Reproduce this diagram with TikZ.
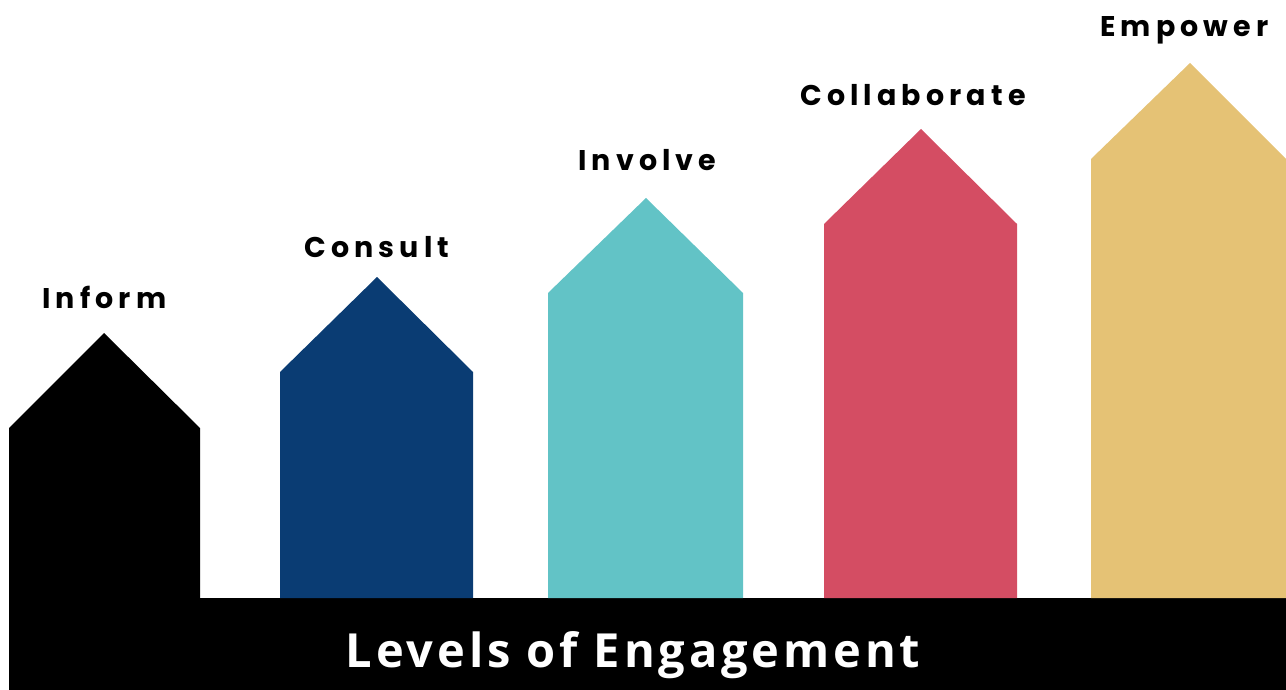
\documentclass[tikz,border=0pt]{standalone}
\usepackage{fontspec}
\newfontfamily\labelfont{Poppins}[LetterSpace=18]
\newfontfamily\titlefont{Open Sans}[LetterSpace=8.2]
\definecolor{informc}{HTML}{000000}
\definecolor{consultc}{HTML}{0A3C73}
\definecolor{involvec}{HTML}{62C3C6}
\definecolor{collabc}{HTML}{D44D63}
\definecolor{empowerc}{HTML}{E5C275}
\tikzset{
  levellabel/.style={anchor=base west, inner sep=0pt, font=\labelfont\bfseries\fontsize{28.5}{34}\selectfont, text=black},
  titlelabel/.style={anchor=base, inner sep=0pt, font=\titlefont\bfseries\fontsize{47}{56}\selectfont, text=white}
}
\begin{document}
\begin{tikzpicture}[x=1pt,y=-1pt]
\useasboundingbox (0,0) rectangle (1286,690);
% base bar
\fill[black] (9,598) rectangle (1286,690);
% stepped house-shaped columns
\fill[informc]  (9,598) -- (9,428) -- (104,333) -- (200,428) -- (200,598) -- cycle;
\fill[consultc] (280,598) -- (280,372) -- (377,277) -- (473,372) -- (473,598) -- cycle;
\fill[involvec] (548,598) -- (548,293) -- (646,198) -- (743,293) -- (743,598) -- cycle;
\fill[collabc]  (824,598) -- (824,224) -- (921,129) -- (1017,224) -- (1017,598) -- cycle;
\fill[empowerc] (1091,598) -- (1091,159) -- (1190,63) -- (1286,159) -- (1286,598) -- cycle;
% labels
\node[levellabel] (inform) at (42,308) {Inform};
\node[levellabel] (consult) at (304,257) {Consult};
\node[levellabel] (involve) at (578,171) {Involve};
\node[levellabel] (collab) at (800,106) {Collaborate};
\node[levellabel] (empower) at (1100,37) {Empower};
\node[titlelabel] (title) at (633,667) {Levels of Engagement};
\end{tikzpicture}
\end{document}
